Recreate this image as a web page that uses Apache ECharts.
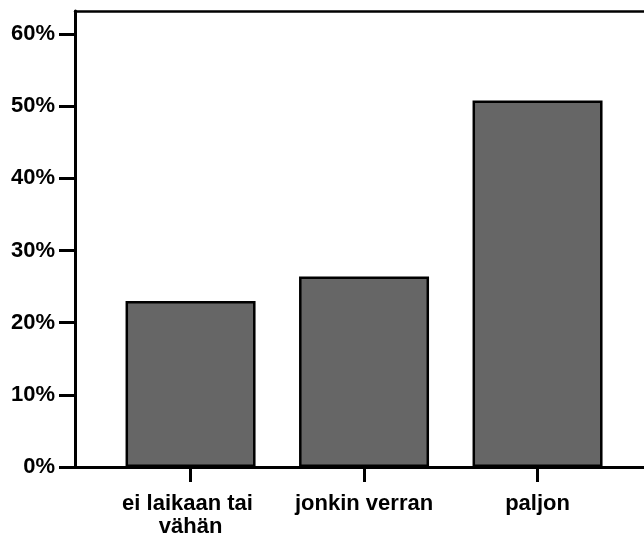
<!DOCTYPE html>
<html>
<head>
<meta charset="utf-8">
<script src="https://cdn.jsdelivr.net/npm/echarts@6/dist/echarts.min.js"></script>
<style>
  html, body { margin: 0; padding: 0; background: #fff; }
  #main { width: 644px; height: 536px; }
</style>
</head>
<body>
<div id="main"></div>
<script>
var categories = ['ei laikaan tai vähän', 'jonkin verran', 'paljon'];
var values = [23.0, 26.4, 50.8];
var yTicks = [0, 10, 20, 30, 40, 50, 60];

var myChart = echarts.init(document.getElementById('main'));

var xIdx = categories.map(function (c, i) { return i; });
var barData = values.map(function (v, i) { return [i, v]; });

var txt = {
    color: '#000',
    fontFamily: '"Liberation Sans", Arial, sans-serif',
    fontWeight: 'bold',
    fontSize: 22
};

var option = {
    animation: false,
    grid: {
        left: 75,
        top: 11,
        width: 580,
        bottom: 69,
        show: false,
        containLabel: false,
        outerBoundsMode: 'none'
    },
    xAxis: [
        {
            type: 'value',
            min: -0.666,
            max: 2.677,
            splitLine: { show: false },
            axisLine: { show: true, onZero: false, lineStyle: { color: '#000', width: 3 } },
            axisTick: { show: true, customValues: xIdx, length: 15, lineStyle: { color: '#000', width: 3 } },
            axisLabel: Object.assign({
                customValues: xIdx,
                margin: 25,
                lineHeight: 23,
                width: 160,
                overflow: 'break',
                formatter: function (v) { return categories[Math.round(v)]; }
            }, txt)
        },
        {
            type: 'value',
            position: 'top',
            min: -0.666,
            max: 2.677,
            splitLine: { show: false },
            axisLine: { show: true, onZero: false, lineStyle: { color: '#000', width: 2.5 } },
            axisTick: { show: false },
            axisLabel: { show: false }
        }
    ],
    yAxis: {
        type: 'value',
        min: 0,
        max: 63.2,
        splitLine: { show: false },
        axisLine: { show: true, onZero: false, lineStyle: { color: '#000', width: 3 } },
        axisTick: { show: true, customValues: yTicks, length: 16, lineStyle: { color: '#000', width: 3 } },
        axisLabel: Object.assign({
            customValues: yTicks,
            margin: 20,
            formatter: '{value}%'
        }, txt)
    },
    series: [
        {
            type: 'bar',
            data: barData,
            barWidth: 130,
            itemStyle: {
                color: '#666666',
                borderColor: '#000',
                borderWidth: 2.5
            }
        }
    ]
};
myChart.setOption(option);
</script>
</body>
</html>
